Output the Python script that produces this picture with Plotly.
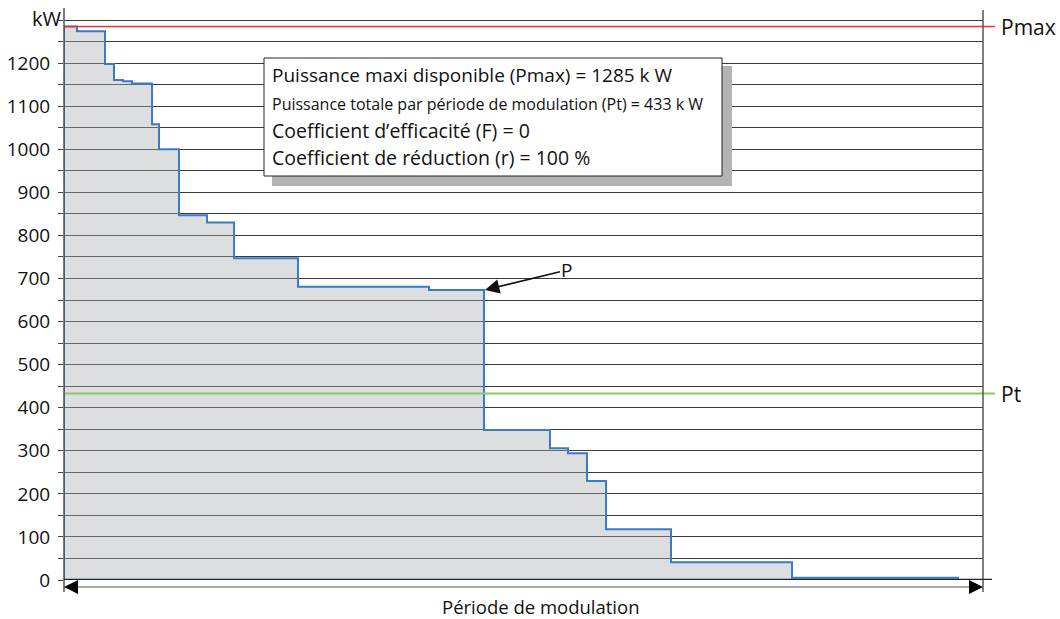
import plotly.graph_objects as go

# Step profile: start of each step (in % of the modulation period) and its power (kW)
step_start = [0, 0, 1.41, 4.46, 5.44, 6.42, 7.40, 9.58, 10.34, 12.51, 15.56, 18.50,
              25.46, 39.72, 45.70, 52.88, 54.84, 56.91, 58.98, 66.05, 79.22, 97.28]
step_power = [0, 1285, 1274, 1198, 1161, 1158, 1153, 1058, 1000, 847, 830, 747,
              681, 673, 348, 306, 294, 230, 118, 41, 5, 0]

P_MAX = 1285
P_T = 433
P_POINT = (45.70, 673)

y_ticks = list(range(0, 1301, 50))
y_labels = [str(v) if (v % 100 == 0 and v <= 1200) else '' for v in y_ticks]

info_lines = [
    ('Puissance maxi disponible (Pmax) = 1285 k W', 19),
    ('Puissance totale par période de modulation (Pt) = 433 k W', 16),
    ('Coefficient d\u2019efficacité (F) = 0', 19.5),
    ('Coefficient de réduction (r) = 100 %', 19.5),
]

FONT = 'Open Sans'
W, H = 1060, 619
L, R, T, B = 64, 77, 8, 39
PH = H - T - B
PW = W - L - R


def px_x(px):
    return (px - L) / PW


def px_y(py):
    return (H - B - py) / PH


fig = go.Figure()

fig.add_trace(go.Scatter(
    x=step_start,
    y=step_power,
    mode='lines',
    line=dict(color='#3a7cc4', width=2, shape='hv'),
    fill='tozeroy',
    fillcolor='rgba(170,172,178,0.4)',
    showlegend=False,
    hoverinfo='skip'
))

shapes = [
    # Pmax / Pt reference lines
    dict(type='line', xref='paper', yref='y', x0=0, x1=px_x(995), y0=P_MAX, y1=P_MAX,
         line=dict(color='#e8353c', width=1.5)),
    dict(type='line', xref='paper', yref='y', x0=0, x1=px_x(995), y0=P_T, y1=P_T,
         line=dict(color='#8cc865', width=2)),
    # axes
    dict(type='line', xref='paper', yref='paper', x0=0, x1=0, y0=px_y(592), y1=1,
         line=dict(color='#555555', width=1.5)),
    dict(type='line', xref='paper', yref='paper', x0=1, x1=1, y0=px_y(592), y1=px_y(10),
         line=dict(color='#555555', width=1.5)),
    dict(type='line', xref='paper', yref='y', x0=0, x1=px_x(992), y0=0, y1=0,
         line=dict(color='#1a2633', width=2.5)),
    # modulation period arrow shaft
    dict(type='line', xref='paper', yref='paper', x0=px_x(70), x1=px_x(977),
         y0=px_y(587), y1=px_y(587), line=dict(color='#aaaaaa', width=2)),
    # info box shadow and box
    dict(type='rect', xref='paper', yref='paper', x0=px_x(272), x1=px_x(732),
         y0=px_y(186), y1=px_y(66), fillcolor='#b3b3b3', line=dict(width=0), layer='above'),
    dict(type='rect', xref='paper', yref='paper', x0=px_x(264), x1=px_x(722),
         y0=px_y(176), y1=px_y(58), fillcolor='white',
         line=dict(color='#222222', width=1), layer='above'),
]

annotations = [
    dict(text='kW', xref='paper', yref='y', x=px_x(30), y=1304, showarrow=False,
         yanchor='middle', font=dict(family=FONT, size=20, color='#111111')),
    dict(text='Pmax', xref='paper', yref='y', x=px_x(999), y=P_MAX, xanchor='left',
         yanchor='middle', showarrow=False, font=dict(family=FONT, size=21, color='#111111')),
    dict(text='Pt', xref='paper', yref='y', x=px_x(999), y=P_T, xanchor='left',
         yanchor='middle', showarrow=False, font=dict(family=FONT, size=21, color='#111111')),
    dict(text='P', xref='x', yref='y', x=P_POINT[0], y=P_POINT[1], ax=83, ay=-20,
         showarrow=True, arrowhead=2, arrowsize=1.8, arrowwidth=1.6, arrowcolor='#111111',
         standoff=1, font=dict(family=FONT, size=19, color='#111111')),
    dict(text='Période de modulation', xref='paper', yref='paper', x=px_x(541), y=px_y(606),
         xanchor='center', yanchor='middle', showarrow=False,
         font=dict(family=FONT, size=18.5, color='#111111')),
    # modulation period arrow heads
    dict(text='', xref='paper', yref='paper', x=px_x(64), y=px_y(587), ax=15, ay=0,
         showarrow=True, arrowhead=2, arrowsize=1.4, arrowwidth=2, arrowcolor='#000000'),
    dict(text='', xref='paper', yref='paper', x=px_x(983), y=px_y(587), ax=-15, ay=0,
         showarrow=True, arrowhead=2, arrowsize=1.4, arrowwidth=2, arrowcolor='#000000'),
]

line_y = [75, 104, 130, 158]
for (txt, size), py in zip(info_lines, line_y):
    annotations.append(dict(
        text=txt, xref='paper', yref='paper', x=px_x(270), y=px_y(py),
        xanchor='left', yanchor='middle', showarrow=False,
        font=dict(family=FONT, size=size, color='#111111')
    ))

fig.update_layout(
    width=W,
    height=H,
    margin=dict(l=L, r=R, t=T, b=B, autoexpand=False),
    plot_bgcolor='white',
    paper_bgcolor='white',
    showlegend=False,
    font=dict(family=FONT, color='#111111'),
    xaxis=dict(
        range=[0, 100],
        showgrid=False,
        zeroline=False,
        showticklabels=False,
        ticks='',
        showline=False,
        fixedrange=True
    ),
    yaxis=dict(
        range=[0, 1328],
        tickmode='array',
        tickvals=y_ticks,
        ticktext=y_labels,
        ticks='outside',
        ticklen=5,
        tickcolor='#444444',
        ticklabelstandoff=4,
        tickfont=dict(family=FONT, size=19, color='#111111'),
        showgrid=True,
        gridcolor='#3a3a3a',
        gridwidth=1,
        zeroline=False,
        showline=False,
        automargin=False,
        fixedrange=True
    ),
    shapes=shapes,
    annotations=annotations
)

fig.write_html('out.html', config={'displayModeBar': False},
               post_script="document.body.style.margin='0';")
